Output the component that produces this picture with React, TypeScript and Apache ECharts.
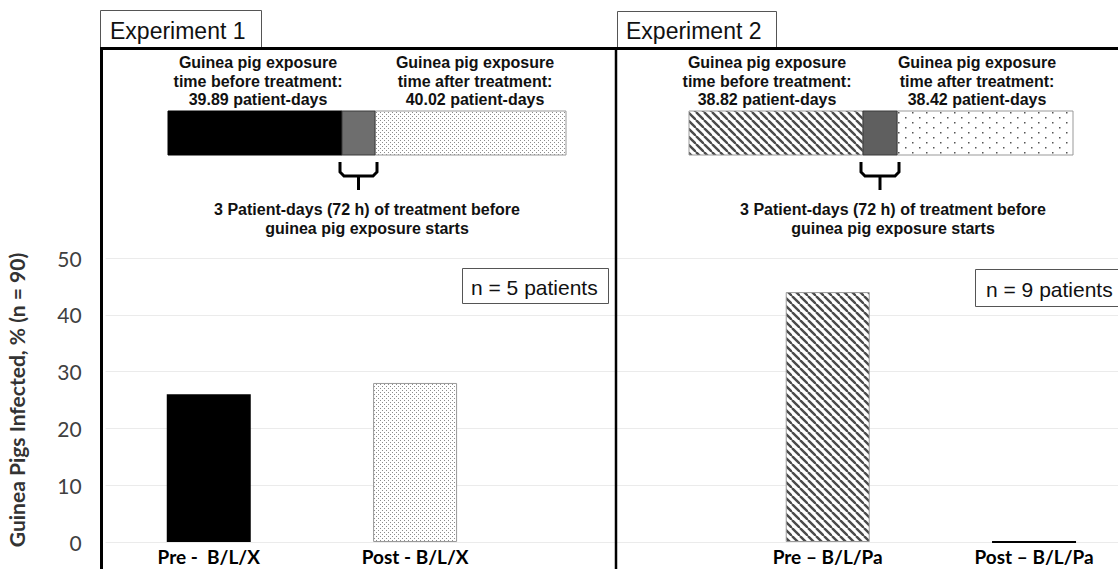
import React, { useEffect, useRef } from "react";
import * as echarts from "echarts";

// ---- data ----
const categories = ["Pre - \u00a0B/L/X", "Post - B/L/X", "", "Pre – B/L/Pa", "Post – B/L/Pa"];
const infectedPct: (number | null)[] = [26, 28, null, 44, 0];
const yMin = 0;
const yMax = 50;
const yInterval = 10;
const experimentTitles = ["Experiment 1", "Experiment 2"];
const exposureBefore = ["39.89", "38.82"];
const exposureAfter = ["40.02", "38.42"];
const patientCounts = [5, 9];
const yAxisTitle = "Guinea Pigs Infected, % (n = 90)";

function tile(w: number, h: number, draw: (ctx: CanvasRenderingContext2D) => void) {
  const c = document.createElement("canvas");
  c.width = w;
  c.height = h;
  const ctx = c.getContext("2d")!;
  ctx.fillStyle = "#ffffff";
  ctx.fillRect(0, 0, w, h);
  draw(ctx);
  return { image: c, repeat: "repeat", imageWidth: w, imageHeight: h } as any;
}

export default function App() {
  const ref = useRef<HTMLDivElement>(null);
  useEffect(() => {
    if (!ref.current) return;
    const chart = echarts.init(ref.current, undefined, { renderer: "svg" });

    const stipple = () =>
      tile(4, 4, (ctx) => {
        ctx.fillStyle = "#8c8c8c";
        ctx.fillRect(0, 0, 1, 1);
        ctx.fillRect(2, 2, 1, 1);
      });
    const hatch = () =>
      tile(8, 8, (ctx) => {
        ctx.strokeStyle = "#4a4a4a";
        ctx.lineWidth = 2.4;
        for (const o of [-8, 0, 8]) {
          ctx.beginPath();
          ctx.moveTo(o, 0);
          ctx.lineTo(o + 8, 8);
          ctx.stroke();
        }
      });
    const dots = () =>
      tile(14, 10, (ctx) => {
        ctx.fillStyle = "#555555";
        ctx.fillRect(2, 2, 1.5, 1.5);
        ctx.fillRect(9, 7, 1.5, 1.5);
      });

    const barStyles = [
      { color: "#000000" },
      { color: stipple(), borderColor: "#9a9a9a", borderWidth: 1 },
      { color: "#ffffff" },
      { color: hatch(), borderColor: "#9a9a9a", borderWidth: 1 },
      { color: "#000000", borderColor: "#000000", borderWidth: 2 },
    ];

    const arial = "'Liberation Sans', Arial, sans-serif";
    const g: any[] = [];
    const txt = (x: number, y: number, text: string, size: number, bold: boolean, align = "center") =>
      g.push({
        type: "text",
        z: 100,
        x,
        y,
        style: {
          text,
          fill: "#111",
          font: `${bold ? "bold " : ""}${size}px ${arial}`,
          textAlign: align,
          textVerticalAlign: "middle",
        },
      });

    // panel frame
    g.push({ type: "line", z: 100, shape: { x1: 100, y1: 48.5, x2: 1118, y2: 48.5 }, style: { stroke: "#000", lineWidth: 3 } });
    g.push({ type: "line", z: 100, shape: { x1: 101.5, y1: 47, x2: 101.5, y2: 569 }, style: { stroke: "#000", lineWidth: 3 } });
    g.push({ type: "line", z: 100, shape: { x1: 616, y1: 47, x2: 616, y2: 569 }, style: { stroke: "#000", lineWidth: 2.5 } });

    // header tabs
    const tabs = [
      { x: 100.5, y: 10.5, w: 161, tx: 110 },
      { x: 617.5, y: 11.5, w: 159, tx: 626 },
    ];
    tabs.forEach((t, i) => {
      g.push({ type: "rect", z: 99, shape: { x: t.x, y: t.y, width: t.w, height: 48 - t.y }, style: { fill: "#fff", stroke: "#555", lineWidth: 1 } });
      txt(t.tx, 31, experimentTitles[i], 23, false, "left");
    });

    // timelines
    const tl = [
      { x0: 168, x1: 342, x2: 375, x3: 566, lc: 258, rc: 475, bc: 367, first: "#000000", firstPat: null as any, last: stipple(), grey: "#6e6e6e" },
      { x0: 689, x1: 863, x2: 897, x3: 1073, lc: 767, rc: 977, bc: 893, first: null as any, firstPat: hatch(), last: dots(), grey: "#5f5f5f" },
    ];
    tl.forEach((t, i) => {
      const y = 111, h = 44;
      g.push({ type: "rect", z: 100, shape: { x: t.x0, y, width: t.x1 - t.x0, height: h }, style: { fill: t.first || t.firstPat, stroke: i === 0 ? "#000" : "#999", lineWidth: 1 } });
      g.push({ type: "rect", z: 100, shape: { x: t.x2, y, width: t.x3 - t.x2, height: h }, style: { fill: t.last, stroke: "#999", lineWidth: 1 } });
      g.push({ type: "rect", z: 101, shape: { x: t.x1, y, width: t.x2 - t.x1, height: h }, style: { fill: t.grey, stroke: "#3a3a3a", lineWidth: 1 } });
      txt(t.lc, 62.5, "Guinea pig exposure", 16, true);
      txt(t.lc, 81, "time before treatment:", 16, true);
      txt(t.lc, 99.5, `${exposureBefore[i]} patient-days`, 16, true);
      txt(t.rc, 62.5, "Guinea pig exposure", 16, true);
      txt(t.rc, 81, "time after treatment:", 16, true);
      txt(t.rc, 99.5, `${exposureAfter[i]} patient-days`, 16, true);
      // brace
      const l = t.x1 - 2, r = t.x2 + 2, c = (l + r) / 2;
      g.push({
        type: "polyline",
        z: 100,
        shape: { points: [[l, 162], [l, 172], [l + 4, 176], [r - 4, 176], [r, 172], [r, 162]] },
        style: { stroke: "#000", lineWidth: 3, fill: null },
      });
      g.push({ type: "line", z: 100, shape: { x1: c, y1: 176, x2: c, y2: 190 }, style: { stroke: "#000", lineWidth: 3 } });
      txt(t.bc, 209.5, "3 Patient-days (72 h) of treatment before", 16, true);
      txt(t.bc, 228.5, "guinea pig exposure starts", 16, true);
    });

    // n boxes
    const nb = [
      { x: 462.5, y: 268.5, w: 146, h: 35, tx: 471 },
      { x: 975.5, y: 269.5, w: 160, h: 37, tx: 986 },
    ];
    nb.forEach((b, i) => {
      g.push({ type: "rect", z: 100, shape: { x: b.x, y: b.y, width: b.w, height: b.h }, style: { fill: "#fff", stroke: "#555", lineWidth: 1 } });
      txt(b.tx, b.y + b.h / 2 + 1, `n = ${patientCounts[i]} patients`, 21, false, "left");
    });

    chart.setOption({
      animation: false,
      backgroundColor: "#ffffff",
      grid: { left: 105.6, width: 1031.6, top: 258, bottom: 27, containLabel: false, outerBoundsMode: "none" },
      xAxis: {
        type: "category",
        data: categories,
        boundaryGap: true,
        axisLine: { show: false },
        axisTick: { show: false },
        axisLabel: {
          interval: 0,
          margin: 5,
          color: "#000",
          fontSize: 19,
          fontWeight: "bold",
          fontFamily: "Lato, sans-serif",
        },
      },
      yAxis: {
        type: "value",
        min: yMin,
        max: yMax,
        interval: yInterval,
        name: yAxisTitle,
        nameLocation: "middle",
        nameRotate: 90,
        nameGap: 79,
        nameTextStyle: { color: "#333", fontSize: 21, fontWeight: "bold", fontFamily: "Lato, sans-serif" },
        axisLine: { show: false },
        axisTick: { show: false },
        axisLabel: { color: "#404040", fontSize: 21, margin: 24, fontFamily: "Lato, sans-serif" },
        splitLine: { lineStyle: { color: "#ebebeb", width: 1 } },
      },
      series: [
        {
          type: "bar",
          barWidth: 84,
          data: infectedPct.map((v, i) => ({ value: v, itemStyle: barStyles[i] })),
        },
      ],
      graphic: { elements: g },
    });
    return () => chart.dispose();
  }, []);
  return <div ref={ref} style={{ position: "fixed", left: 0, top: 0, width: 1118, height: 569 }} />;
}
